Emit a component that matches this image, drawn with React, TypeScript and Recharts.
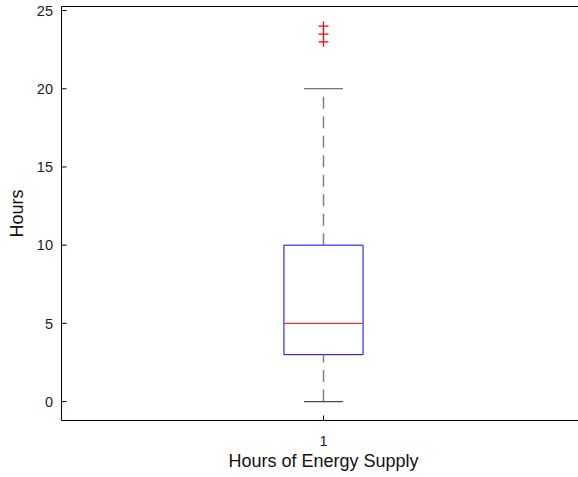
import React from "react"
import {
	ComposedChart,
	XAxis,
	YAxis,
	ReferenceArea,
	ReferenceLine,
	Scatter,
	Label,
} from "recharts"

// box statistics
const categories = [1]
const lowerWhisker = [0]
const quartile1 = [3]
const medians = [5]
const quartile3 = [10]
const upperWhisker = [20]
const outliers = [23, 23.5, 24]
const yTicks = [0, 5, 10, 15, 20, 25]

const BOX_HALF = 0.0755
const CAP_HALF = 0.0372
const FONT = "'Liberation Sans', Arial, Helvetica, sans-serif"

const outlierData = outliers.map((v) => ({ x: categories[0], y: v }))

const PlusShape = (props: any) => {
	const { cx, cy } = props
	if (cx == null || cy == null) return null
	return (
		<g stroke="#ff0000" strokeWidth={1.2}>
			<line x1={cx - 5} y1={cy} x2={cx + 5} y2={cy} />
			<line x1={cx} y1={cy - 5} x2={cx} y2={cy + 5} />
		</g>
	)
}

export default function App() {
	return (
		<div
			style={{
				position: "fixed",
				left: 0,
				top: 0,
				width: 578,
				height: 477,
				overflow: "hidden",
				background: "#fff",
				fontFamily: FONT,
			}}
		>
			<ComposedChart
				width={600}
				height={477}
				margin={{ top: 5.5, right: 14.5, left: 0.5, bottom: 0 }}
			>
				<XAxis
					xAxisId="bottom"
					type="number"
					dataKey="x"
					domain={[0.5, 1.5]}
					ticks={categories}
					orientation="bottom"
					height={56.5}
					stroke="#000"
					tickSize={-5}
					tickMargin={20}
					tick={{ fill: "#1a1a1a", fontSize: 14.5, fontFamily: FONT }}
					allowDataOverflow
				>
					<Label
						value="Hours of Energy Supply"
						position="insideBottom"
						offset={10}
						style={{ fill: "#111", fontSize: 18, fontFamily: FONT }}
					/>
				</XAxis>
				<XAxis
					xAxisId="top"
					type="number"
					domain={[0.5, 1.5]}
					ticks={categories}
					orientation="top"
					height={1}
					stroke="#000"
					tickSize={-5}
					tick={false}
					allowDataOverflow
				/>
				<YAxis
					yAxisId="left"
					type="number"
					dataKey="y"
					domain={[-1.21, 25.26]}
					ticks={yTicks}
					width={61}
					stroke="#000"
					tickSize={-5}
					tickMargin={13.5}
					tick={{ fill: "#1a1a1a", fontSize: 14.5, fontFamily: FONT }}
					allowDataOverflow
				>
					<Label
						value="Hours"
						angle={-90}
						position="insideLeft"
						offset={16}
						style={{ fill: "#111", fontSize: 18, fontFamily: FONT, textAnchor: "middle" }}
					/>
				</YAxis>

				{categories.map((c, i) => (
					<React.Fragment key={c}>
						<ReferenceLine
							xAxisId="bottom"
							yAxisId="left"
							segment={[
								{ x: c, y: quartile3[i] },
								{ x: c, y: upperWhisker[i] },
							]}
							stroke="#808080"
							strokeWidth={1.5}
							strokeDasharray="12 7.5"
						/>
						<ReferenceLine
							xAxisId="bottom"
							yAxisId="left"
							segment={[
								{ x: c, y: lowerWhisker[i] },
								{ x: c, y: quartile1[i] },
							]}
							stroke="#808080"
							strokeWidth={1.5}
							strokeDasharray="12 7.5"
						/>
						<ReferenceLine
							xAxisId="bottom"
							yAxisId="left"
							segment={[
								{ x: c - CAP_HALF, y: upperWhisker[i] },
								{ x: c + CAP_HALF, y: upperWhisker[i] },
							]}
							stroke="#4d4d4d"
							strokeWidth={1.2}
						/>
						<ReferenceLine
							xAxisId="bottom"
							yAxisId="left"
							segment={[
								{ x: c - CAP_HALF, y: lowerWhisker[i] },
								{ x: c + CAP_HALF, y: lowerWhisker[i] },
							]}
							stroke="#4d4d4d"
							strokeWidth={1.2}
						/>
						<ReferenceArea
							xAxisId="bottom"
							yAxisId="left"
							x1={c - BOX_HALF}
							x2={c + BOX_HALF}
							y1={quartile1[i]}
							y2={quartile3[i]}
							fill="#fff"
							fillOpacity={1}
							stroke="#0000ff"
							strokeWidth={1}
						/>
						<ReferenceLine
							xAxisId="bottom"
							yAxisId="left"
							segment={[
								{ x: c - BOX_HALF, y: medians[i] },
								{ x: c + BOX_HALF, y: medians[i] },
							]}
							stroke="#ff0000"
							strokeWidth={1}
						/>
					</React.Fragment>
				))}

				<Scatter
					xAxisId="bottom"
					yAxisId="left"
					data={outlierData}
					dataKey="y"
					shape={<PlusShape />}
					isAnimationActive={false}
				/>
			</ComposedChart>
		</div>
	)
}
